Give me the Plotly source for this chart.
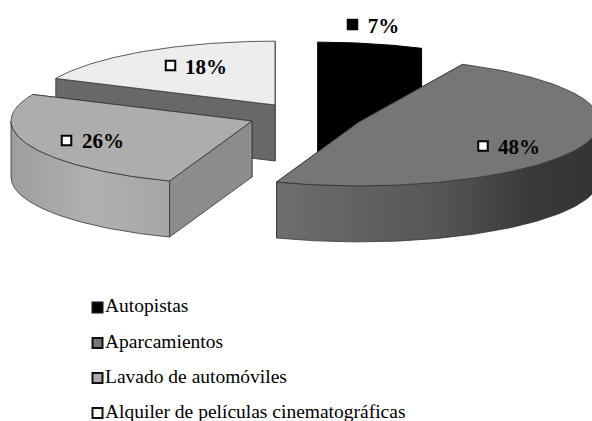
import numpy as np
import plotly.graph_objects as go

categories = ["Autopistas", "Aparcamientos", "Lavado de automóviles",
              "Alquiler de películas cinematográficas"]
percentages = [7, 48, 26, 18]
labels = ["7%", "48%", "26%", "18%"]

# --- styling / projection of the exploded 3D pie ---
W, H = 592, 421
RADIUS, TILT, DEPTH = 241, 0.265, 56
CENTRES = [(318, 106), (359, 122), (252, 121), (275, 105)]
TOP = ["#000000", "#767676", "#adadad", "#ededed"]
FACE = ["#000000", "#767676", "#8c8c8c", "#686868"]
WALL_SCALE = [
    None,
    [[0, "#6e6e6e"], [0.5, "#565656"], [0.78, "#3a3a3a"], [1, "#333333"]],
    [[0, "#9e9e9e"], [0.5, "#b0b0b0"], [1, "#a6a6a6"]],
    None,
]
LEGEND_FILL = ["#000000", "#777777", "#adadad", "#ffffff"]
MARK_FILL = ["#000000", "#ffffff", "#ffffff", "#ffffff"]
MARK_XY = [(352.5, 24.5), (483, 146), (66.5, 140.5), (170.5, 65.5)]
TEXT_X = [383.5, 519, 103, 206]
TEXT_Y = [28, 149, 143, 68.5]
LEGEND_Y = [307.5, 343, 378, 413]
SERIF = "Liberation Serif, Times New Roman, serif"
EDGE = dict(color="#333333", width=0.8)


def project(cx, cy, deg, drop=0.0):
    a = np.radians(deg)
    return cx + RADIUS * np.sin(a), cy - RADIUS * TILT * np.cos(a) + drop


def poly(fig, xs, ys, color, grad=None, line=EDGE):
    kw = dict(fillgradient=dict(type="horizontal", colorscale=grad)) if grad else dict(fillcolor=color)
    fig.add_trace(go.Scatter(x=list(xs), y=list(ys), mode="lines", fill="toself",
                             line=line, showlegend=False, hoverinfo="skip", **kw))


fig = go.Figure()
total = sum(percentages)
spans, start = [], 0.0
for p in percentages:
    spans.append((start, start + 360.0 * p / total))
    start = spans[-1][1]

for i in [3, 0, 2, 1]:  # back to front
    a0, a1 = spans[i]
    cx, cy = CENTRES[i]
    line = dict(color="#000000", width=1) if i == 0 else EDGE
    # the radial cut reaching furthest back is painted first
    for a in sorted((a0, a1), key=lambda d: project(cx, cy, d)[1]):
        ex, ey = project(cx, cy, a)
        poly(fig, [cx, ex, ex, cx, cx], [cy, ey, ey + DEPTH, cy + DEPTH, cy], FACE[i], line=line)
    w0, w1 = max(a0, 90), min(a1, 270)
    if w1 > w0:
        t = np.linspace(w0, w1, 90)
        x, y = project(cx, cy, t)
        poly(fig, np.r_[x, x[::-1], x[0]], np.r_[y, y[::-1] + DEPTH, y[0]], TOP[i], grad=WALL_SCALE[i], line=line)
    t = np.linspace(a0, a1, 120)
    x, y = project(cx, cy, t)
    poly(fig, np.r_[cx, x, cx], np.r_[cy, y, cy], TOP[i], line=line)

for i, lab in enumerate(labels):
    fig.add_trace(go.Scatter(
        x=[MARK_XY[i][0]], y=[MARK_XY[i][1]], mode="markers", showlegend=False, hoverinfo="skip",
        marker=dict(symbol="square", size=9.5, color=MARK_FILL[i], line=dict(color="#000000", width=2))))
    fig.add_trace(go.Scatter(
        x=[TEXT_X[i]], y=[TEXT_Y[i]], mode="text", text=[f"<b>{lab}</b>"], showlegend=False,
        hoverinfo="skip", textposition="middle center",
        textfont=dict(family=SERIF, size=21, color="#000000")))

for i, name in enumerate(categories):
    fig.add_trace(go.Scatter(
        x=[97.5], y=[LEGEND_Y[i]], mode="markers", showlegend=False, hoverinfo="skip",
        marker=dict(symbol="square", size=10, color=LEGEND_FILL[i], line=dict(color="#111111", width=2))))
    fig.add_trace(go.Scatter(
        x=[105], y=[LEGEND_Y[i]], mode="text", text=[name], showlegend=False, hoverinfo="skip",
        textposition="middle right", textfont=dict(family=SERIF, size=19.5, color="#000000")))

fig.update_layout(
    width=W, height=H, margin=dict(l=0, r=0, t=0, b=0),
    paper_bgcolor="#ffffff", plot_bgcolor="#ffffff",
    xaxis=dict(range=[0, W], visible=False, fixedrange=True),
    yaxis=dict(range=[H, 0], visible=False, fixedrange=True),
)
fig.write_html("out.html", config={"displayModeBar": False},
               post_script="document.body.style.margin='0';document.body.style.overflow='hidden';")
